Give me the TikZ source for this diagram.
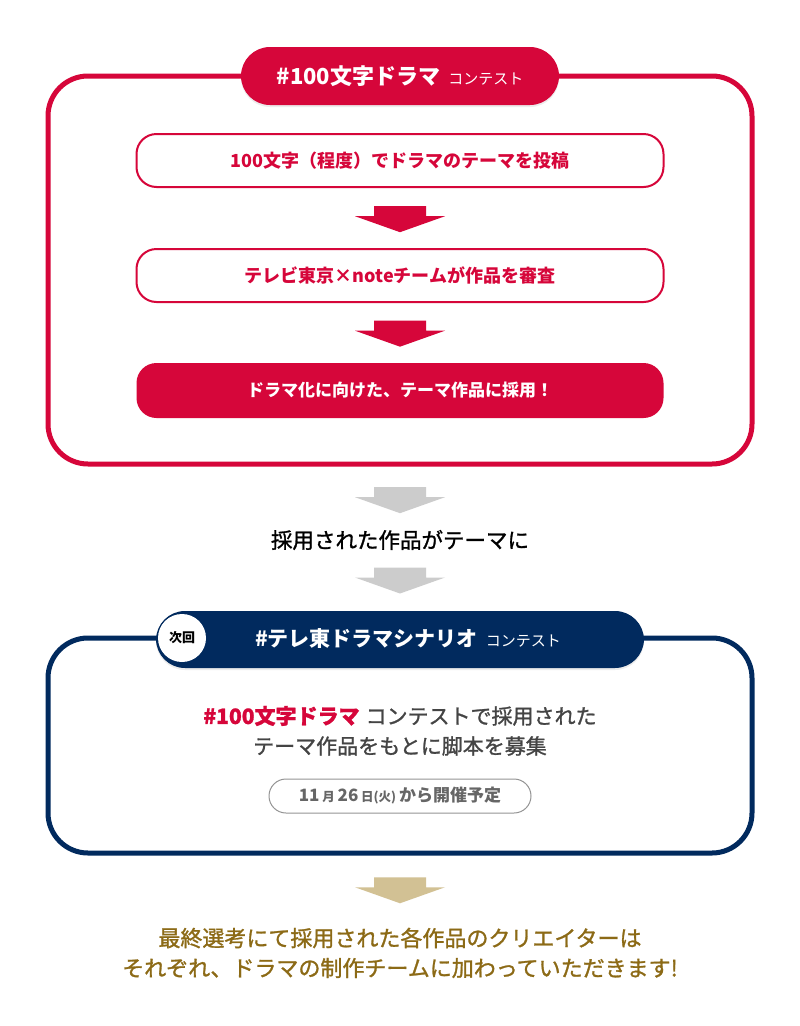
\documentclass[tikz,border=0pt]{standalone}
\usepackage{fontspec}
\setmainfont{Noto Sans CJK JP}
\newfontfamily\medfont{Noto Sans CJK JP}[FakeBold=1.2]
\usetikzlibrary{positioning,shadows}
\definecolor{tvred}{HTML}{D6063A}
\definecolor{tvnavy}{HTML}{012A5E}
\definecolor{arrgray}{HTML}{CCCCCC}
\definecolor{arrtan}{HTML}{D2C194}
\definecolor{txtgray}{HTML}{444444}
\definecolor{txtgold}{HTML}{8C6A16}
\definecolor{dategray}{HTML}{666666}
\newcommand\fsz[1]{\fontsize{#1}{#1}\selectfont}
\tikzset{
  pill/.style={minimum height=58pt, rounded corners=29pt, inner sep=0pt,
    drop shadow={shadow xshift=0pt, shadow yshift=-2pt, opacity=0.15}},
  stepbox/.style={minimum width=527pt, minimum height=53pt, rounded corners=20pt,
    inner sep=0pt, line width=2pt, font=\bfseries\fsz{18}},
  frame/.style={line width=5pt, rounded corners=40pt},
  plain/.style={inner sep=0pt},
  blockarrow/.pic={\fill[#1] (-26,-13) -- (26,-13) -- (26,-3) -- (45,-3)
    -- (0,13) -- (-45,-3) -- (-26,-3) -- cycle;}
}
\begin{document}
\begin{tikzpicture}[x=1pt, y=-1pt]
\useasboundingbox[fill=white] (0,0) rectangle (800,1026);
% first contest
\draw[frame, tvred] (48,76) rectangle (752,464);
\node[pill, fill=tvred, minimum width=318pt, text=white] (hdr1) at (400,76)
  {{\bfseries\fsz{22}\#100文字ドラマ}\hspace{8pt}{\fsz{15}コンテスト}};
\node[stepbox, draw=tvred, text=tvred] (s1) at (400,160.5)
  {100文字（程度）でドラマのテーマを投稿};
\node[stepbox, draw=tvred, text=tvred] (s2) at (400,275.5)
  {テレビ東京×noteチームが作品を審査};
\node[stepbox, fill=tvred, text=white, minimum height=55pt, font=\bfseries\fsz{17}] (s3)
  at (400,390.5) {ドラマ化に向けた、テーマ作品に採用！};
\path (s1.south) -- (s2.north) coordinate[pos=0.52] (a1);
\path (s2.south) -- (s3.north) coordinate[pos=0.52] (a2);
\pic at (a1) {blockarrow=tvred};
\pic at (a2) {blockarrow=tvred};
% result
\node[plain, font=\medfont\fsz{21.5}] (mid) at (400,540) {採用された作品がテーマに};
\coordinate (box1) at (400,464);
\path (box1) -- (mid.north) coordinate[pos=0.55] (a3);
\pic at (a3) {blockarrow=arrgray};
% next contest
\draw[frame, tvnavy] (48,638) rectangle (752,853);
\node[pill, fill=tvnavy, minimum width=488pt, minimum height=57pt] (hdr2) at (400,639.5) {};
\path (mid.south) -- (hdr2.north) coordinate[pos=0.5] (a4);
\pic at (a4) {blockarrow=arrgray};
\node[circle, fill=white, minimum size=48pt, inner sep=0pt, font=\bfseries\fsz{13}]
  (next) at (182,638) {次回};
\node[plain, text=white] (title2) at (408,639)
  {{\bfseries\fsz{21}\#テレ東ドラマシナリオ}\hspace{8pt}{\fsz{15}コンテスト}};
\node[plain, font=\medfont\fsz{21}, text=txtgray] (body1) at (400,716)
  {{\bfseries\color{tvred}\#100文字ドラマ}\hspace{6pt}コンテストで採用された};
\node[plain, font=\medfont\fsz{21}, text=txtgray] (body2) at (400,746)
  {テーマ作品をもとに脚本を募集};
\node[draw=dategray!70, line width=1pt, rounded corners=17pt, minimum width=262pt,
  minimum height=34pt, inner sep=0pt, text=dategray, font=\bfseries\fsz{17}] (date) at (400,796)
  {11\,{\fsz{12.5}月}\,26\,{\fsz{12.5}日(火)}\hspace{3pt}から開催予定};
% final
\node[plain, font=\medfont\fsz{22}, text=txtgold] (fin1) at (400,938)
  {最終選考にて採用された各作品のクリエイターは};
\node[plain, font=\medfont\fsz{22}, text=txtgold] (fin2) at (400,968)
  {それぞれ、ドラマの制作チームに加わっていただきます!};
\coordinate (box2) at (400,853);
\path (box2) -- (fin1.north) coordinate[pos=0.5] (a5);
\pic at (a5) {blockarrow=arrtan};
\end{tikzpicture}
\end{document}
